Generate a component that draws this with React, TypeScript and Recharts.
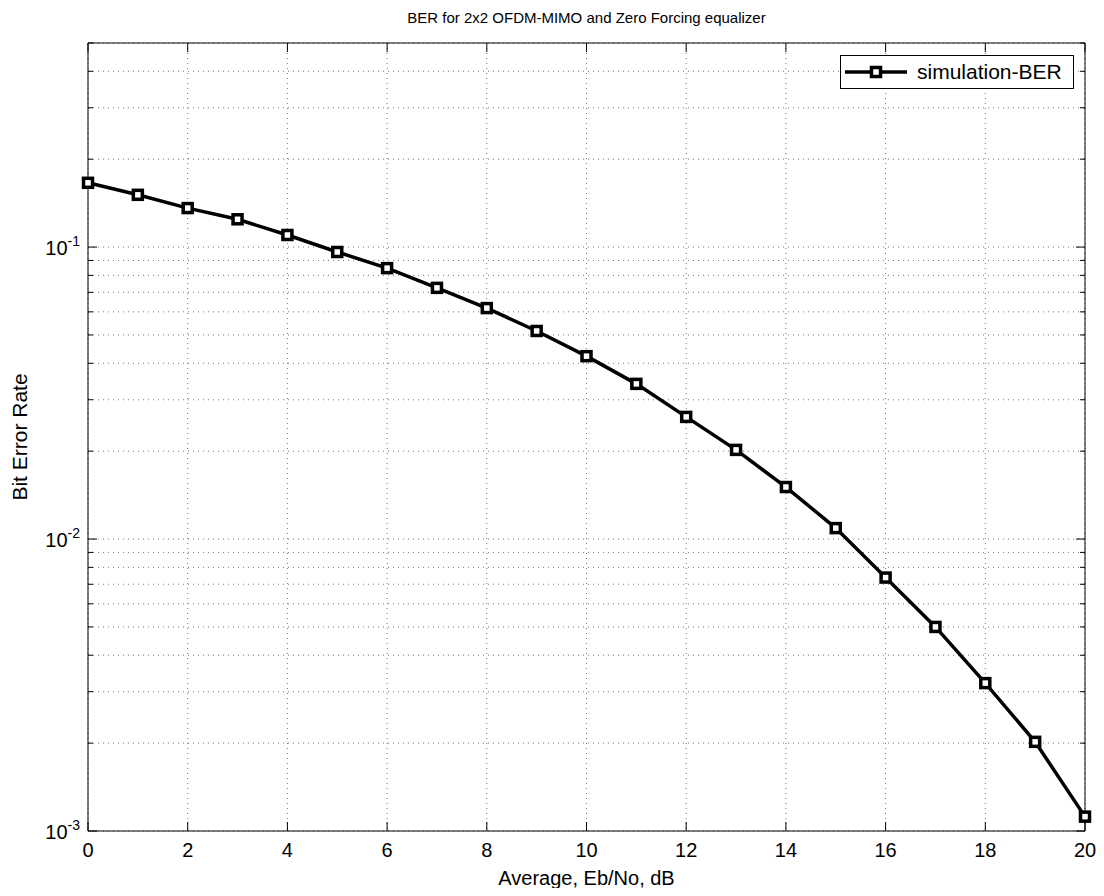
import React from "react";
import {
  LineChart,
  Line,
  XAxis,
  YAxis,
  CartesianGrid,
  Legend,
} from "recharts";

// Eb/No in dB
const snrDb = [0, 1, 2, 3, 4, 5, 6, 7, 8, 9, 10, 11, 12, 13, 14, 15, 16, 17, 18, 19, 20];

// simulated bit error rate
const simBer = [
  0.166, 0.151, 0.136, 0.1245, 0.11, 0.0962, 0.0847, 0.0725, 0.0618, 0.0516,
  0.0423, 0.034, 0.0262, 0.0202, 0.01507, 0.0109, 0.00738, 0.005, 0.00321,
  0.00202, 0.00112,
];

const xTicks = [0, 2, 4, 6, 8, 10, 12, 14, 16, 18, 20];

// log axis: decades get a label, the rest are minor ticks / grid
const yDecades = [0.001, 0.01, 0.1];
const yMinor = [
  0.002, 0.003, 0.004, 0.005, 0.006, 0.007, 0.008, 0.009,
  0.02, 0.03, 0.04, 0.05, 0.06, 0.07, 0.08, 0.09,
  0.2, 0.3, 0.4, 0.5,
];
const yTicks = [...yDecades, ...yMinor].sort((a, b) => a - b);
const yDomain = [0.001, 0.5];

const data = snrDb.map((x, i) => ({ snr: x, ber: simBer[i] }));

const FONT = "'Liberation Sans', Arial, sans-serif";

const isDecade = (v: number) => yDecades.some((d) => Math.abs(d - v) < 1e-12);

const SquareDot = (props: any) => {
  const { cx, cy } = props;
  if (cx == null || cy == null) return null;
  return (
    <rect
      x={cx - 4.5}
      y={cy - 4.5}
      width={9}
      height={9}
      fill="#fff"
      stroke="#000"
      strokeWidth={3.5}
    />
  );
};

const LeftTick = (props: any) => {
  const { x, y, payload } = props;
  const major = isDecade(payload.value);
  const exp = Math.round(Math.log10(payload.value));
  return (
    <g>
      <line x1={x} x2={x + (major ? 9 : 5)} y1={y} y2={y} stroke="#000" />
      {major && (
        <text x={x - 8} y={y + 8} textAnchor="end" fontSize={20} fontFamily={FONT} fill="#000">
          <tspan>10</tspan>
          <tspan dy={-9} fontSize={14}>{exp}</tspan>
        </text>
      )}
    </g>
  );
};

const RightTick = (props: any) => {
  const { x, y, payload } = props;
  const major = isDecade(payload.value);
  return <line x1={x} x2={x - (major ? 9 : 5)} y1={y} y2={y} stroke="#000" />;
};

const BottomTick = (props: any) => {
  const { x, y, payload } = props;
  return (
    <g>
      <line x1={x} x2={x} y1={y} y2={y - 9} stroke="#000" />
      <text x={x} y={y + 26} textAnchor="middle" fontSize={20} fontFamily={FONT} fill="#000">
        {payload.value}
      </text>
    </g>
  );
};

const TopTick = (props: any) => {
  const { x, y } = props;
  return <line x1={x} x2={x} y1={y} y2={y + 9} stroke="#000" />;
};

const LegendBox = () => (
  <div
    style={{
      border: "1px solid #000",
      background: "#fff",
      height: 32,
      display: "flex",
      alignItems: "center",
      fontFamily: FONT,
      fontSize: 21,
      color: "#000",
    }}
  >
    <svg width={72} height={32} style={{ marginRight: 4 }}>
      <line x1={4} x2={66} y1={16} y2={16} stroke="#000" strokeWidth={3.5} />
      <rect x={30.5} y={11.5} width={9} height={9} fill="#fff" stroke="#000" strokeWidth={3.5} />
    </svg>
    <span>simulation-BER</span>
  </div>
);

export default function App() {
  return (
    <div style={{ position: "relative", width: 1096, height: 880 }}>
      <div
        style={{
          position: "absolute",
          left: 80,
          width: 997,
          top: 1,
          textAlign: "center",
          fontFamily: FONT,
          fontSize: 15,
          color: "#000",
        }}
      >
        BER for 2x2 OFDM-MIMO and Zero Forcing equalizer
      </div>
      <LineChart
        width={1096}
        height={888}
        data={data}
        margin={{ top: 25, right: 11, left: 10, bottom: 8 }}
      >
        <CartesianGrid
          xAxisId="x"
          yAxisId="y"
          stroke="#777"
          strokeDasharray="1 4"
        />
        <XAxis
          xAxisId="x"
          dataKey="snr"
          type="number"
          domain={[0, 20]}
          ticks={xTicks}
          height={57}
          tickSize={0}
          tickMargin={0}
          tickLine={false}
          tick={<BottomTick />}
          axisLine={{ stroke: "#000" }}
          label={{
            value: "Average, Eb/No, dB",
            position: "insideBottom",
            offset: 3,
            fontSize: 20,
            fontFamily: FONT,
            fill: "#000",
          }}
        />
        <XAxis
          xAxisId="xt"
          orientation="top"
          type="number"
          domain={[0, 20]}
          ticks={xTicks}
          height={10}
          tickSize={0}
          tickMargin={0}
          tickLine={false}
          tick={<TopTick />}
          axisLine={{ stroke: "#000" }}
        />
        <YAxis
          yAxisId="y"
          type="number"
          scale="log"
          domain={yDomain}
          allowDataOverflow
          ticks={yTicks}
          interval={0}
          width={70}
          tickSize={0}
          tickMargin={0}
          tickLine={false}
          tick={<LeftTick />}
          axisLine={{ stroke: "#000" }}
          label={{
            value: "Bit Error Rate",
            angle: -90,
            position: "insideLeft",
            offset: 2,
            fontSize: 21,
            fontFamily: FONT,
            fill: "#000",
            style: { textAnchor: "middle" },
          }}
        />
        <YAxis
          yAxisId="yr"
          orientation="right"
          type="number"
          scale="log"
          domain={yDomain}
          allowDataOverflow
          ticks={yTicks}
          interval={0}
          width={8}
          tickSize={0}
          tickMargin={0}
          tickLine={false}
          tick={<RightTick />}
          axisLine={{ stroke: "#000" }}
        />
        <Legend
          layout="horizontal"
          verticalAlign="middle"
          align="center"
          wrapperStyle={{ top: 47, left: 832, width: 234 }}
          content={<LegendBox />}
        />
        <Line
          xAxisId="x"
          yAxisId="y"
          dataKey="ber"
          name="simulation-BER"
          type="linear"
          stroke="#000"
          strokeWidth={3.5}
          dot={<SquareDot />}
          activeDot={false}
          isAnimationActive={false}
        />
      </LineChart>
    </div>
  );
}
